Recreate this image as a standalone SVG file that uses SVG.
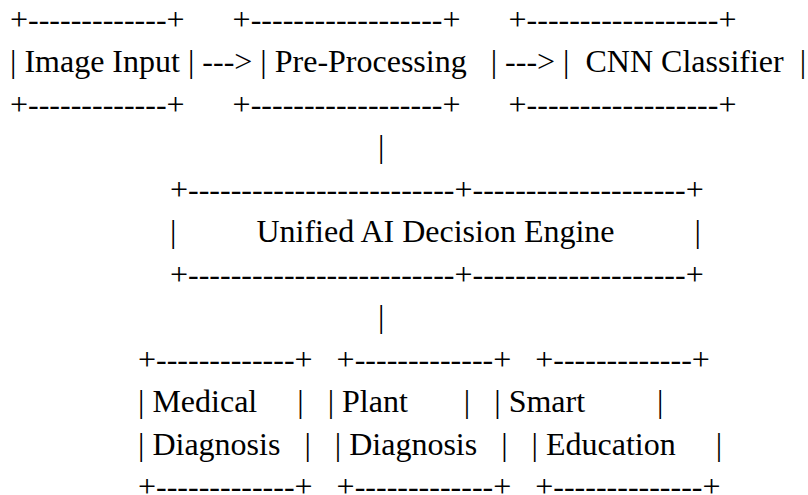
<svg xmlns="http://www.w3.org/2000/svg" width="808" height="495" viewBox="0 0 808 495">
<style>
  text { font-family: "Liberation Serif", "Times New Roman", "DejaVu Serif", serif; font-size: 32px; fill: #000; white-space: pre; }
</style>
<rect x="0" y="0" width="808" height="495" fill="#fff"/>
<g id="node-image-input">
  <text x="10" y="30" xml:space="preserve">+-------------+</text>
  <text x="10" y="72.45" xml:space="preserve">| Image Input |</text>
  <text x="10" y="114.9" xml:space="preserve">+-------------+</text>
</g>
<g id="node-pre-processing">
  <text x="232.624" y="30" xml:space="preserve">+------------------+</text>
  <text x="260.336" y="72.45" xml:space="preserve">| Pre-Processing   |</text>
  <text x="232.624" y="114.9" xml:space="preserve">+------------------+</text>
</g>
<g id="node-cnn-classifier">
  <text x="508.528" y="30" xml:space="preserve">+------------------+</text>
  <text x="563.12" y="72.45" xml:space="preserve">|  CNN Classifier  |</text>
  <text x="508.528" y="114.9" xml:space="preserve">+------------------+</text>
</g>
<g id="node-decision-engine">
  <text x="170" y="199.8" xml:space="preserve">+-------------------------+--------------------+</text>
  <text x="170" y="242.25" xml:space="preserve">|          Unified AI Decision Engine          |</text>
  <text x="170" y="284.7" xml:space="preserve">+-------------------------+--------------------+</text>
</g>
<g id="node-medical-diagnosis">
  <text x="138" y="369.6" xml:space="preserve">+-------------+</text>
  <text x="138" y="412.05" xml:space="preserve">| Medical     |</text>
  <text x="138" y="454.5" xml:space="preserve">| Diagnosis   |</text>
  <text x="138" y="496.95" xml:space="preserve">+-------------+</text>
</g>
<g id="node-plant-diagnosis">
  <text x="336.624" y="369.6" xml:space="preserve">+-------------+</text>
  <text x="327.664" y="412.05" xml:space="preserve">| Plant       |</text>
  <text x="334.8" y="454.5" xml:space="preserve">| Diagnosis   |</text>
  <text x="336.624" y="496.95" xml:space="preserve">+-------------+</text>
</g>
<g id="node-smart-education">
  <text x="535.248" y="369.6" xml:space="preserve">+-------------+</text>
  <text x="494.256" y="412.05" xml:space="preserve">| Smart         |</text>
  <text x="531.6" y="454.5" xml:space="preserve">| Education     |</text>
  <text x="535.248" y="496.95" xml:space="preserve">+--------------+</text>
</g>
<g id="connectors">
  <text x="202.32" y="72.45">---&gt;</text>
  <text x="505.104" y="72.45">---&gt;</text>
  <text x="378" y="157.35">|</text>
  <text x="378" y="327.15">|</text>
</g>
</svg>
